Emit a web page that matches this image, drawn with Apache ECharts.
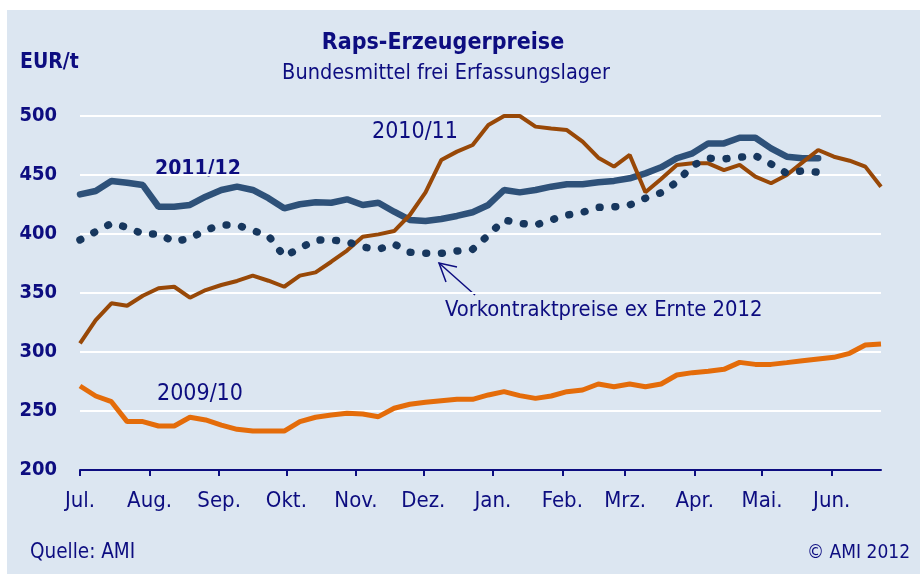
<!DOCTYPE html>
<html><head><meta charset="utf-8">
<script src="https://cdn.jsdelivr.net/npm/echarts@6/dist/echarts.min.js"></script>
<style>html,body{margin:0;padding:0;background:#fff}#c{width:920px;height:574px}</style>
</head><body><div id="c"></div>
<script>
// Month tick labels and their positions (weeks since 1 July)
const monthLabels = ['Jul.','Aug.','Sep.','Okt.','Nov.','Dez.','Jan.','Feb.','Mrz.','Apr.','Mai.','Jun.'];
const monthStartWeeks = [0, 4.43, 8.86, 13.14, 17.57, 21.86, 26.29, 30.71, 34.71, 39.14, 43.43, 47.86];

// Weekly series values (EUR/t), index = week since start of July
const s2009_10 = [271.2,262.7,257.9,241,241,237.3,237.3,244.7,242.4,238.1,234.5,233,233,233,241,244.7,246.6,248,247.5,245.2,252.3,255.7,257.4,258.7,259.9,259.9,263.6,266.4,263,260.7,262.7,266.4,267.8,272.9,270.6,272.9,270.6,272.9,280.5,282.5,283.6,285.3,291.2,289.5,289.5,291,292.6,294.1,295.5,298.9,305.9,306.8];
const s2010_11 = [307.4,327.1,341.3,339.2,347.7,354,355.3,346,352.5,356.8,360.2,364.7,360.4,355.3,364.7,367.5,376.5,386,397.7,399.7,402.5,416.1,435.3,462.7,469.8,475.4,492.4,500,500,491,489.5,488.1,478.3,464.7,457.1,467,435.3,446.6,458.5,459.9,459.9,454.2,458.5,448.6,443,450,460.7,471.2,465.5,462.1,457.1,440.1];
const s2011_12 = [433.6,436.4,444.9,443.5,441.5,423.1,423.1,424.6,431.6,437.3,440.1,437.3,430.3,421.8,425.2,426.9,426.5,429.4,424.6,426.5,418.9,411.9,411,412.7,415.3,418.4,424.6,437.3,435.3,437.3,440.1,442.1,442.1,443.8,445,447.2,451.4,456.5,464.2,468.4,476.8,476.8,481.6,481.6,472.6,465.5,464.2,464.2];
const sVorkontrakt = [395,402,409,405.7,400,400,393.5,396.4,403.4,407.6,407.6,403,398.5,381,388,394.8,395,393.5,389,387,391.5,384.5,383.6,383.6,385.6,387,399,412,409,407.6,411.9,416,418.4,422.6,423,424.6,430.3,435,444,458,464.2,463.6,465,466.4,459.3,451.4,453.6,452.3];

const yTicks = {min:200, max:500, interval:50};

const FONT = "'DejaVu Sans Condensed','Liberation Sans Narrow','DejaVu Sans',sans-serif";
const NAVY = '#0d0d80';

function toPairs(arr){ return arr.map((v,i)=>[i,v]); }

const chart = echarts.init(document.getElementById('c'), null, {renderer:'canvas'});
chart.setOption({
  animation:false,
  backgroundColor:'#ffffff',
  grid:{left:80, right:39, top:116, bottom:104, containLabel:false},
  xAxis:{
    type:'value', min:0, max:51,
    axisLine:{lineStyle:{color:NAVY, width:2}},
    axisTick:{customValues:monthStartWeeks, length:6, lineStyle:{color:NAVY, width:2}},
    axisLabel:{customValues:monthStartWeeks, fontSize:22, color:NAVY, fontFamily:FONT, margin:20,
      formatter:function(v){ const i = monthStartWeeks.findIndex(w=>Math.abs(w-v)<0.01); return i>=0?monthLabels[i]:''; }},
    splitLine:{show:false}
  },
  yAxis:{
    type:'value', min:yTicks.min, max:yTicks.max, interval:yTicks.interval,
    axisLine:{show:false}, axisTick:{show:false},
    splitLine:{lineStyle:{color:'#ffffff', width:2}},
    axisLabel:{fontSize:20, fontWeight:'bold', color:NAVY, fontFamily:FONT, margin:23}
  },
  series:[
    {name:'2009/10', type:'line', data:toPairs(s2009_10), symbol:'none', z:2,
     lineStyle:{color:'#e46c0a', width:5}},
    {name:'2011/12', type:'line', data:toPairs(s2011_12), symbol:'none', z:3,
     lineStyle:{color:'#2e5179', width:6.5, cap:'round'}},
    {name:'2010/11', type:'line', data:toPairs(s2010_11), symbol:'none', z:4,
     lineStyle:{color:'#984807', width:4}},
    {name:'Vorkontraktpreise ex Ernte 2012', type:'line', data:toPairs(sVorkontrakt), symbol:'none', z:5,
     lineStyle:{color:'#17375e', width:7.5, type:[0.8,14.9], cap:'round'}}
  ],
  graphic:[
    {type:'rect', z:-100, silent:true, shape:{x:7,y:10,width:913,height:564}, style:{fill:'#dce6f1'}},
    {type:'text', style:{text:'Raps-Erzeugerpreise', x:443, y:43, align:'center', verticalAlign:'middle', fill:NAVY, font:"bold 23px "+FONT}},
    {type:'text', style:{text:'Bundesmittel frei Erfassungslager', x:446, y:73, align:'center', verticalAlign:'middle', fill:NAVY, font:"21.5px "+FONT}},
    {type:'text', style:{text:'EUR/t', x:20, y:63, align:'left', verticalAlign:'middle', fill:NAVY, font:"bold 21px "+FONT}},
    {type:'text', style:{text:'2011/12', x:155, y:170, align:'left', verticalAlign:'middle', fill:NAVY, font:"bold 21px "+FONT}},
    {type:'text', style:{text:'2010/11', x:372, y:132, align:'left', verticalAlign:'middle', fill:NAVY, font:"23px "+FONT}},
    {type:'text', style:{text:'2009/10', x:157, y:394, align:'left', verticalAlign:'middle', fill:NAVY, font:"23px "+FONT}},
    {type:'text', style:{text:'Vorkontraktpreise ex Ernte 2012', x:445, y:310, align:'left', verticalAlign:'middle', fill:NAVY, font:"21.8px "+FONT}},
    {type:'polyline', shape:{points:[[475,295],[439,263]]}, style:{stroke:NAVY, lineWidth:1.5, fill:null}},
    {type:'polyline', shape:{points:[[457,267],[439,263],[446,282]]}, style:{stroke:NAVY, lineWidth:1.5, fill:null}},
    {type:'text', style:{text:'Quelle: AMI', x:30, y:553, align:'left', verticalAlign:'middle', fill:NAVY, font:"20.5px "+FONT}},
    {type:'text', style:{text:'© AMI 2012', x:910, y:553, align:'right', verticalAlign:'middle', fill:NAVY, font:"19px "+FONT}}
  ]
});
</script>
</body></html>
